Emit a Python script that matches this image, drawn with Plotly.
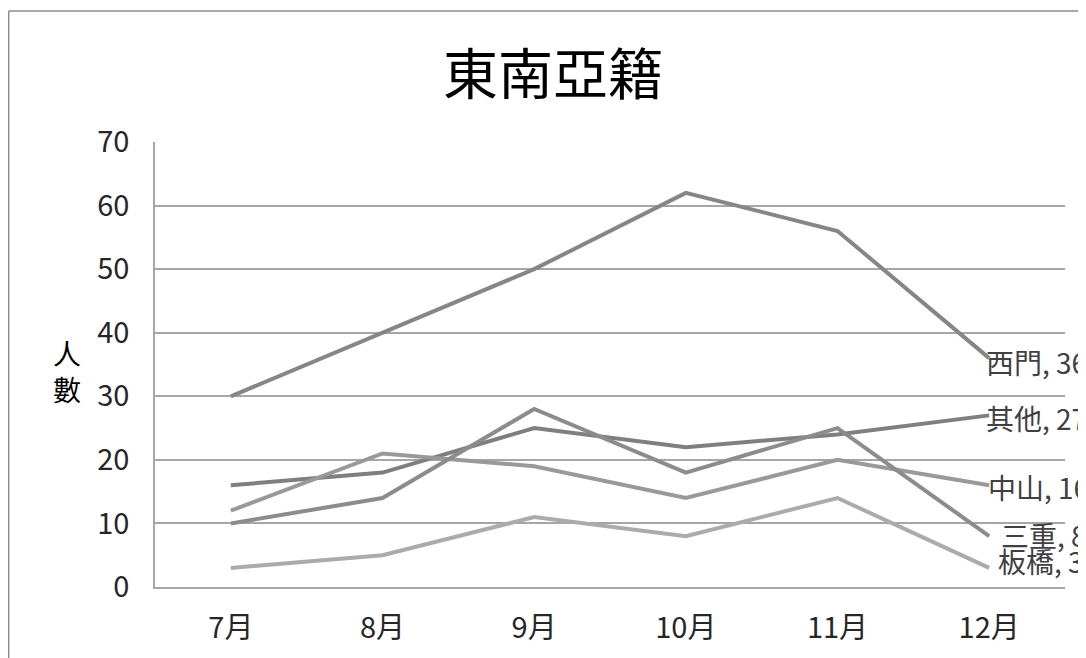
import plotly.graph_objects as go

months = ["7月", "8月", "9月", "10月", "11月", "12月"]
series_names = ["西門", "其他", "中山", "三重", "板橋"]
ximen = [30, 40, 50, 62, 56, 36]
qita = [16, 18, 25, 22, 24, 27]
zhongshan = [12, 21, 19, 14, 20, 16]
sanchong = [10, 14, 28, 18, 25, 8]
banqiao = [3, 5, 11, 8, 14, 3]
y_ticks = [0, 10, 20, 30, 40, 50, 60, 70]

values = [ximen, qita, zhongshan, sanchong, banqiao]
colors = ["#868686", "#7f7f7f", "#999999", "#8c8c8c", "#ababab"]
label_shift = [(-5, -4), (-5, -3), (-3, -2), (10, 1), (7, 7)]

FONT = "Noto Sans CJK TC, Noto Sans CJK SC, sans-serif"

# page has an 8px body margin; figure is sized to fill the rest of the 1086x658 window
OFF = 8
W, H = 1086 - OFF, 658 - OFF
L, T = 155 - OFF, 142 - OFF
R = W - (1065 - OFF)
B = H - (587 - OFF)
pw = W - L - R
ph = H - T - B


def px_x(page_x):
    return (page_x - OFF - L) / pw


def px_y(page_y):
    return (H - B - (page_y - OFF)) / ph


fig = go.Figure()
for name, vals, col in zip(series_names, values, colors):
    fig.add_trace(go.Scatter(x=months, y=vals, mode="lines", name=name,
                             line=dict(color=col, width=4), showlegend=False))

for name, vals, (xs, ys) in zip(series_names, values, label_shift):
    fig.add_annotation(x=months[-1], y=vals[-1], text=f"{name}, {vals[-1]}",
                       showarrow=False, xanchor="left", yanchor="middle",
                       xshift=xs, yshift=ys,
                       font=dict(family=FONT, size=28, color="#404040"))

# y-axis title
fig.add_annotation(xref="paper", yref="paper", x=px_x(67), y=px_y(371),
                   text="人<br>數", showarrow=False, xanchor="center", yanchor="middle",
                   font=dict(family=FONT, size=28, color="#000000"))

# chart border (outer frame, clipped by page edge)
fig.add_shape(type="line", xref="paper", yref="paper",
              x0=px_x(8.7), x1=px_x(1120), y0=px_y(11), y1=px_y(11),
              line=dict(color="#8c8c8c", width=1.5))
fig.add_shape(type="line", xref="paper", yref="paper",
              x0=px_x(8.7), x1=px_x(8.7), y0=px_y(11), y1=px_y(700),
              line=dict(color="#8c8c8c", width=1.5))

fig.update_layout(
    width=W, height=H,
    margin=dict(l=L, r=R, t=T, b=B),
    paper_bgcolor="white", plot_bgcolor="white",
    title=dict(text="東南亞籍", x=(553 - OFF) / W, xanchor="center",
               y=1 - (75 - OFF) / H, yanchor="middle",
               font=dict(family=FONT, size=55, color="#000000")),
    xaxis=dict(type="category", range=[-0.5, 5.5], showgrid=False, showline=True,
               linecolor="#a6a6a6", linewidth=1.5, ticks="", zeroline=False,
               tickfont=dict(family=FONT, size=29, color="#262626"), ticklabelstandoff=14),
    yaxis=dict(range=[0, 70], tickvals=y_ticks, showgrid=True, gridcolor="#a6a6a6", gridwidth=1.5,
               showline=True, linecolor="#a6a6a6", linewidth=1.5, ticks="", zeroline=False,
               tickfont=dict(family=FONT, size=29, color="#262626"), ticklabelstandoff=18),
)

fig.write_html("out.html")
